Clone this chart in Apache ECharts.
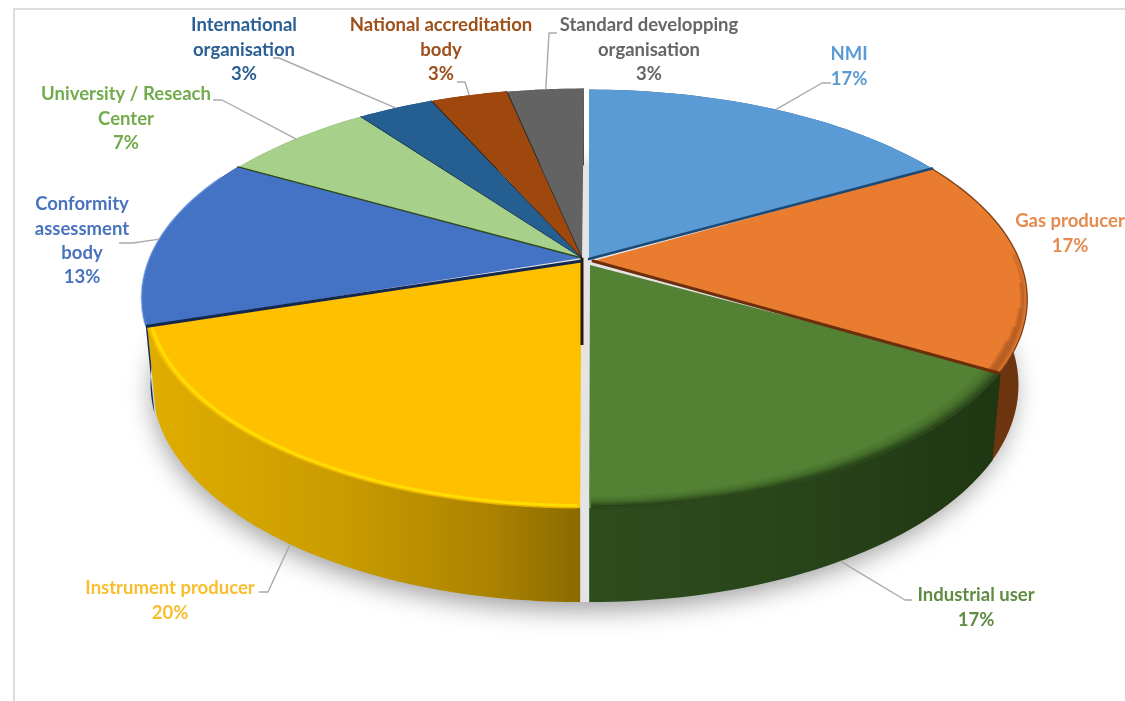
<!DOCTYPE html>
<html>
<head>
<meta charset="utf-8">
<style>html,body{margin:0;padding:0;background:#fff}#c{width:1125px;height:701px}</style>
<script src="https://cdn.jsdelivr.net/npm/echarts@6/dist/echarts.min.js"></script>
</head>
<body>
<div id="c"></div>
<script>
// ---- data ----
const categories = ['NMI','Gas producer','Industrial user','Instrument producer','Conformity assessment body','University / Reseach Center','International organisation','National accreditation body','Standard developping organisation'];
const labelLines = [['NMI'],['Gas producer'],['Industrial user'],['Instrument producer'],['Conformity','assessment','body'],['University / Reseach','Center'],['International','organisation'],['National accreditation','body'],['Standard developping','organisation']];
const shares = [16.67,16.67,16.67,20,13.33,6.67,3.33,3.33,3.33];

// ---- styles ----
const topColors  = ['#5B9BD5','#EA7C30','#548235','#FFC000','#4472C4','#A7D18B','#255E91','#9E480E','#636363'];
const textColors = ['#5B9BD5','#E58B50','#5F8B43','#F9BE2E','#4A73BE','#72AB4C','#2B6094','#9E4E18','#666666'];
const wallStops  = [
  [[0,'#2a5a85'],[1,'#2a5a85']],
  [[0,'#74390f'],[1,'#6a3410']],
  [[0,'#2d4d1e'],[0.5,'#28441a'],[1,'#1f3612']],
  [[0,'#e0ad00'],[0.45,'#c99c00'],[0.8,'#ab8200'],[1,'#8a6a00']],
  [[0,'#17305f'],[1,'#17305f']],
  [[0,'#7a9a66'],[1,'#7a9a66']],[[0,'#1c466c'],[1,'#1c466c']],[[0,'#76350a'],[1,'#76350a']],[[0,'#4a4a4a'],[1,'#4a4a4a']]
];
const seamColors = ['#1c4a74','#6b2f0c',null,'#14284f','#2f4a20','#1b3a56','#3a1c06','#2b2b2b',null];
const seamWidths = [2.5,3,0,3,1.5,1,1,1,0];
const sliceShift = [4,4,4.5,-4.5,-4,-3,-3,-2,-1];
const sliceLift  = [1.5,1.5,0,0,0,0,0,0,0.5];
const sliceRadius= [432,431,432,430,432,432,432,432,432];
const wallZ = [1,2,4,6,3,1,1,1,1];
const faceZ = [3,5,4,6,2,1,1,1,1];
const apexes = [[589,259],[593,261],[590,265],[581.5,261],[582,258],[582,258],[582,258],[582,258],[582,258]];
const labelBoxes = [[849,54],[1070,221],[976,595],[170,588],[82,204],[126,94],[244,25],[441,25],[649,25]];
// leader route from the label side towards the slice (last point comes from the slice's mid angle)
const leaderRoutes = [
  [[831,83],[822,83]], null, [[912,600],[905,600]], [[259,592],[268,592]],
  [[119,243],[133,243]], [[213,100],[222,100]], [[273,58],[279,58]], [[457,82],[465,82]], [[557,33],[549,33]]
];
const leaderOnBottomRim = [false,false,true,true,false,false,false,false,false];

// ---- projected disc: a circle seen in perspective ----
const CX = 585, CY = 260, TOP_S = 203, PERSP = 0.181;
const BOTTOM_DY = 84, BOTTOM_S = 211.4, BOTTOM_R = 0.98;
const total = shares.reduce((a,b)=>a+b,0);
let cum = 0;
const spans = shares.map(v=>{const s=cum; cum+=v; return [s/total*360,cum/total*360];});

function rim(i,deg,rho,bottom){
  const a = deg*Math.PI/180, u=Math.sin(a), v=-Math.cos(a), w=1-PERSP*v;
  const r = sliceRadius[i]*(bottom?BOTTOM_R:1), s = bottom?BOTTOM_S:TOP_S;
  const k = rho==null?1:rho;
  return [CX+sliceShift[i]+k*r*u/w, CY+sliceLift[i]+(bottom?BOTTOM_DY:0)+k*s*v/w];
}
function arc(i,a0,a1,rho,bottom){
  const n=Math.max(2,Math.ceil(Math.abs(a1-a0)/1.5)), p=[];
  for(let j=0;j<=n;j++) p.push(rim(i,a0+(a1-a0)*j/n,rho,bottom));
  return p;
}
const G = echarts.graphic;
function hGrad(x0,x1,stops){
  return new G.LinearGradient(x0,0,x1,0,stops.map(s=>({offset:s[0],color:s[1]})),true);
}
function line(points,stroke,width,z2,cap){
  return {type:'polyline',shape:{points:points},z2:z2||0,silent:true,
    style:{stroke:stroke,lineWidth:width,fill:null,lineCap:cap||'butt',lineJoin:'round'}};
}

function renderWall(params){
  const i=params.dataIndex, sp=spans[i];
  const top=arc(i,sp[0],sp[1]), bot=arc(i,sp[0],sp[1],1,true);
  const pts=top.concat(bot.slice().reverse());
  const xs=pts.map(p=>p[0]); const x0=Math.min.apply(null,xs), x1=Math.max.apply(null,xs);
  return {type:'polygon',shape:{points:pts},z2:wallZ[i],silent:true,
    style:{fill:hGrad(x0,x1,wallStops[i])}};
}

function renderTop(params){
  const i=params.dataIndex, sp=spans[i], kids=[];
  const pts=[apexes[i]].concat(arc(i,sp[0],sp[1]));
  kids.push({type:'polygon',shape:{points:pts},z2:faceZ[i],silent:true,style:{fill:topColors[i]}});
  // bevel at the rim
  if(i===3){
    kids.push(line(arc(i,sp[0]+0.3,sp[1]-0.3,0.99),'rgba(255,222,0,0.95)',3,7));
    kids.push(line(arc(i,sp[0]+0.3,sp[1]-0.3,1.0),'rgba(230,176,0,0.9)',1.5,7));
  }
  if(i===2){
    for(let s=0;s<9;s++){
      const rho=0.958+s*0.005, alpha=0.05+0.012*s*s;
      kids.push(line(arc(i,sp[0]+0.2,sp[1]-0.2,rho),'rgba(36,62,22,'+alpha.toFixed(3)+')',2.6,5));
    }
  }
  if(i===1){
    kids.push(line(arc(i,sp[0],sp[1]),'rgba(110,56,18,0.85)',1.4,6));
    [[88,0.992,0.18],[96,0.988,0.18],[103,0.984,0.2],[108,0.98,0.2],[112,0.975,0.2]].forEach(b=>{
      kids.push(line(arc(i,b[0],sp[1]-0.2,b[1]),'rgba(110,56,18,'+b[2]+')',4,6));
    });
  }
  if(i===4){
    kids.push(line(arc(i,sp[0]+0.5,sp[1]-4),'rgba(88,140,220,0.6)',2,3));
  }
  if(seamColors[i]){
    kids.push(line([apexes[i],rim(i,sp[1])],seamColors[i],seamWidths[i],9,'round'));
  }
  // dark inner face seen in the central gap, under the apex
  if(i===3){
    const a=apexes[i];
    kids.push(line([[a[0]+0.5,a[1]-3],[a[0]+0.5,a[1]+84]],'#2a1c08',3,9));
  }
  return {type:'group',children:kids};
}

function renderLabel(params){
  const i=params.dataIndex, kids=[];
  const pct=Math.round(shares[i])+'%';
  const box=labelBoxes[i];
  kids.push({type:'text',silent:true,x:box[0],y:box[1]-12,z2:3,
    style:{text:labelLines[i].concat([pct]).join('\n'),font:'bold 18.5px Lato, "Open Sans", sans-serif',
      lineHeight:24.4,align:'center',verticalAlign:'top',fill:textColors[i]}});
  if(leaderRoutes[i]){
    const sp=spans[i], mid=(sp[0]+sp[1])/2;
    kids.push(line(leaderRoutes[i].concat([rim(i,mid,1,leaderOnBottomRim[i])]),'#a9a9a9',1.4,2));
  }
  return {type:'group',children:kids};
}

// base ellipse throws the soft floor shadow and fills the gap between the halves
const basePts=[]; 
for(let d=0;d<360;d+=2){
  const a=d*Math.PI/180,u=Math.sin(a),v=-Math.cos(a),w=1-PERSP*v;
  basePts.push([CX+432*BOTTOM_R*u/w, CY+BOTTOM_DY+BOTTOM_S*v/w]);
}

const seriesData = shares.map((v,i)=>({name:categories[i],value:v}));
const chart = echarts.init(document.getElementById('c'),null,{renderer:'canvas',width:1125,height:701});
chart.setOption({
  animation:false,
  backgroundColor:'#ffffff',
  graphic:[
    {type:'polyline',silent:true,z:0,shape:{points:[[14,701],[14,9],[1125,9]]},style:{stroke:'#dcdcdc',lineWidth:2,fill:null}},
    {type:'polygon',silent:true,z:1,shape:{points:basePts},
      style:{fill:'#e4e4e7',shadowBlur:26,shadowOffsetX:-2,shadowOffsetY:8,shadowColor:'rgba(0,0,0,0.38)'}}
  ],
  series:[
    {type:'custom',name:'walls',coordinateSystem:'none',z:3,data:seriesData,renderItem:renderWall},
    {type:'custom',name:'faces',coordinateSystem:'none',z:4,data:seriesData,renderItem:renderTop},
    {type:'custom',name:'labels',coordinateSystem:'none',z:5,data:seriesData,renderItem:renderLabel}
  ]
});
</script>
</body>
</html>
